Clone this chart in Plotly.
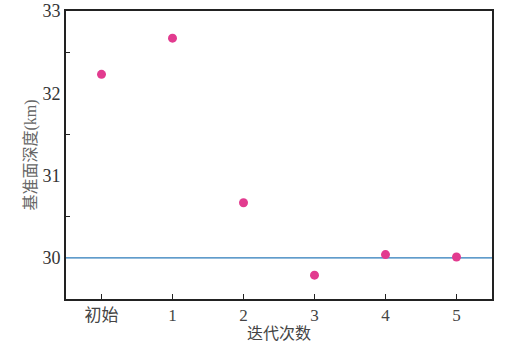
import plotly.graph_objects as go

categories = ["初始", "1", "2", "3", "4", "5"]
depths = [32.23, 32.67, 30.67, 29.79, 30.04, 30.01]
reference_depth = 30.0
y_ticks = [30, 31, 32, 33]

x_idx = list(range(len(categories)))

fig = go.Figure()
fig.add_trace(go.Scatter(
    x=[-0.5, 5.5], y=[reference_depth, reference_depth], mode="lines",
    line=dict(color="#2b7bba", width=1.2), showlegend=False, hoverinfo="skip"))
fig.add_trace(go.Scatter(
    x=x_idx, y=depths, mode="markers",
    marker=dict(color="#e23b8f", size=9), showlegend=False))

fig.update_layout(
    width=512, height=345,
    margin=dict(l=66, r=20, t=11, b=46),
    paper_bgcolor="white", plot_bgcolor="white",
    font=dict(family="Liberation Serif, Noto Sans CJK SC", size=18, color="#333"),
)
fig.update_xaxes(
    range=[-0.5, 5.5], tickvals=x_idx, ticktext=categories, automargin=False,
    showline=True, linecolor="#222", linewidth=2, mirror=True,
    ticks="inside", ticklen=5, tickcolor="#222", showgrid=False, zeroline=False,
    tickfont=dict(size=17, color="#444"),
    title=dict(text="迭代次数", standoff=0, font=dict(size=16, color="#444")),
)
fig.update_yaxes(
    range=[29.5, 33], tickvals=y_ticks, automargin=False,
    showline=True, linecolor="#222", linewidth=2, mirror=True,
    ticks="", showgrid=False, zeroline=False,
    minor=dict(tickvals=[30.5, 31.5, 32.5], ticks="inside", ticklen=4, tickcolor="#222", showgrid=False),
    title=dict(text="基准面深度(km)", standoff=2, font=dict(size=16, color="#666")),
)
fig.write_html("out.html", config={"displayModeBar": False},
               post_script="document.body.style.margin='0';")
